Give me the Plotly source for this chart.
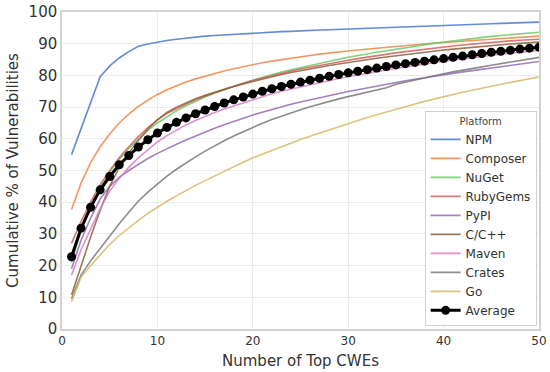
import plotly.graph_objects as go

x_cwes = list(range(1, 51))

npm = [55, 63.2, 71.4, 79.6, 83, 85.5, 87.5, 89.2, 89.9, 90.5,
       91, 91.4, 91.8, 92.1, 92.4, 92.6, 92.8, 93, 93.2, 93.4,
       93.5, 93.7, 93.8, 93.9, 94.1, 94.2, 94.3, 94.4, 94.5, 94.6,
       94.7, 94.8, 94.9, 95, 95.2, 95.3, 95.4, 95.5, 95.6, 95.7,
       95.8, 95.9, 96, 96.1, 96.3, 96.4, 96.5, 96.6, 96.7, 96.8]
composer = [37.7, 46, 52.5, 57.5, 61.5, 65, 67.8, 70.2, 72.2, 74,
            75.5, 76.8, 77.9, 78.9, 79.8, 80.6, 81.4, 82.1, 82.8, 83.4,
            84, 84.5, 85, 85.5, 85.9, 86.3, 86.7, 87.1, 87.4, 87.7,
            88, 88.3, 88.6, 88.9, 89.2, 89.4, 89.7, 89.9, 90.2, 90.4,
            90.6, 90.8, 91, 91.2, 91.4, 91.6, 91.8, 92, 92.2, 92.4]
nuget = [21, 31, 38.5, 44.5, 49.5, 53.5, 57, 60, 62.7, 65,
         67, 68.8, 70.4, 71.9, 73.2, 74.4, 75.5, 76.6, 77.6, 78.5,
         79.4, 80.3, 81.1, 81.8, 82.5, 83.2, 83.9, 84.5, 85.1, 85.7,
         86.3, 86.8, 87.3, 87.8, 88.3, 88.8, 89.2, 89.7, 90.1, 90.5,
         90.9, 91.3, 91.7, 92, 92.3, 92.6, 92.9, 93.1, 93.4, 93.6]
rubygems = [27, 34, 40, 45.5, 50, 54, 57.5, 60.7, 63.5, 66,
            68, 69.6, 71, 72.3, 73.5, 74.6, 75.6, 76.6, 77.5, 78.4,
            79.2, 80, 80.7, 81.4, 82, 82.6, 83.2, 83.8, 84.3, 84.8,
            85.3, 85.8, 86.3, 86.7, 87.1, 87.5, 87.9, 88.3, 88.6, 89,
            89.3, 89.6, 89.9, 90.2, 90.5, 90.7, 90.9, 91.1, 91.3, 91.4]
pypi = [19, 28, 35, 41, 45, 47.8, 50, 52, 53.8, 55.4,
        56.9, 58.3, 59.6, 60.9, 62.1, 63.3, 64.4, 65.5, 66.5, 67.5,
        68.4, 69.3, 70.1, 70.9, 71.6, 72.3, 73, 73.7, 74.3, 74.9,
        75.5, 76.1, 76.7, 77.3, 77.8, 78.3, 78.8, 79.3, 79.8, 80.2,
        80.7, 81.1, 81.5, 81.9, 82.3, 82.7, 83.1, 83.5, 83.9, 84.4]
ccpp = [10.7, 20, 29, 37.5, 45, 51, 55.5, 59.5, 63, 66,
        68.3, 70, 71.4, 72.6, 73.7, 74.7, 75.6, 76.5, 77.3, 78.1,
        78.9, 79.6, 80.3, 80.9, 81.5, 82.1, 82.6, 83.1, 83.6, 84.1,
        84.6, 85, 85.4, 85.8, 86.2, 86.6, 87, 87.3, 87.6, 88,
        88.3, 88.6, 88.9, 89.2, 89.4, 89.7, 89.9, 90.1, 90.3, 90.5]
maven = [17, 25, 31.5, 38, 43.5, 47.5, 51, 54, 56.5, 59,
         61, 62.8, 64.4, 65.8, 67.1, 68.3, 69.4, 70.4, 71.4, 72.4,
         73.3, 74.2, 75, 75.7, 76.4, 77.1, 77.8, 78.4, 79, 79.6,
         80.2, 80.7, 81.2, 81.7, 82.2, 82.7, 83.2, 83.6, 84, 84.5,
         84.9, 85.3, 85.7, 86, 86.4, 86.7, 87, 87.3, 87.6, 87.9]
crates = [9.5, 17, 21.5, 25.5, 29.5, 33.2, 36.8, 40.3, 43.2, 45.8,
          48.2, 50.4, 52.4, 54.3, 56.1, 57.8, 59.4, 60.9, 62.3, 63.6,
          64.9, 66.1, 67.2, 68.2, 69.2, 70.1, 71, 71.8, 72.6, 73.3,
          74, 74.7, 75.4, 76.1, 77.2, 77.9, 78.6, 79.3, 79.9, 80.5,
          81.1, 81.7, 82.2, 82.7, 83.2, 83.7, 84.2, 84.7, 85.2, 85.7]
go_lang = [8.6, 16.3, 20, 23.5, 26.7, 29.5, 32, 34.3, 36.5, 38.5,
           40.3, 42, 43.7, 45.3, 46.8, 48.3, 49.8, 51.2, 52.6, 54,
           55.2, 56.4, 57.6, 58.7, 59.8, 60.8, 61.8, 62.9, 63.9, 64.9,
           65.8, 66.7, 67.6, 68.5, 69.4, 70.2, 71, 71.8, 72.6, 73.3,
           74, 74.7, 75.4, 76, 76.6, 77.2, 77.8, 78.4, 78.9, 79.5]
average = [22.8, 31.8, 38.4, 43.9, 48.1, 51.8, 54.7, 57.4, 59.7, 61.8,
           63.6, 65.2, 66.6, 67.9, 69.1, 70.2, 71.3, 72.3, 73.2, 74.1,
           75, 75.8, 76.5, 77.2, 77.9, 78.5, 79.1, 79.7, 80.3, 80.8,
           81.3, 81.8, 82.3, 82.8, 83.3, 83.7, 84.1, 84.5, 84.9, 85.3,
           85.7, 86.1, 86.5, 86.9, 87.3, 87.6, 87.9, 88.3, 88.6, 88.9]

platforms = ["NPM", "Composer", "NuGet", "RubyGems", "PyPI", "C/C++", "Maven", "Crates", "Go"]
series = [npm, composer, nuget, rubygems, pypi, ccpp, maven, crates, go_lang]
colors = ["#4878D0", "#EE854A", "#6ACC64", "#D65F5F", "#956CB4",
          "#8C613C", "#DC7EC0", "#797979", "#D5BB67"]

fig = go.Figure()
for name, ys, c in zip(platforms, series, colors):
    fig.add_trace(go.Scatter(x=x_cwes, y=ys, mode="lines", name=name,
                             line=dict(color=c, width=1.6), opacity=0.85))
fig.add_trace(go.Scatter(x=x_cwes, y=average, mode="lines+markers", name="Average",
                         line=dict(color="black", width=3),
                         marker=dict(color="black", size=9)))

font = "DejaVu Sans"
fig.update_layout(
    width=550, height=372,
    margin=dict(l=62, r=11, t=12, b=43),
    paper_bgcolor="white", plot_bgcolor="white",
    font=dict(family=font, color="#333333"),
    showlegend=True,
    legend=dict(
        title=dict(text="Platform", font=dict(size=10, color="#444444"), side="top center"),
        x=0.995, xanchor="right", y=0.01, yanchor="bottom",
        bgcolor="rgba(255,255,255,0.9)", bordercolor="#d0d0d0", borderwidth=1,
        font=dict(size=12, color="#333333"),
        tracegroupgap=0, itemwidth=30,
    ),
    xaxis=dict(
        range=[0, 50], tickvals=[0, 10, 20, 30, 40, 50],
        tickfont=dict(size=12), showgrid=True, gridcolor="#ececec",
        showline=True, linecolor="#d3d3d3", linewidth=1.5, mirror=True,
        zeroline=False, ticks="", automargin=False,
        title=dict(text="Number of Top CWEs", font=dict(size=15), standoff=8),
    ),
    yaxis=dict(
        range=[0, 100], tickvals=list(range(0, 101, 10)),
        tickfont=dict(size=15), showgrid=True, gridcolor="#ececec",
        showline=True, linecolor="#d3d3d3", linewidth=1.5, mirror=True,
        zeroline=False, ticks="", automargin=False,
        title=dict(text="Cumulative % of Vulnerabilities", font=dict(size=15), standoff=6),
    ),
)

fig.write_html("out.html",
               config={"displayModeBar": False},
               post_script="document.body.style.margin='0';document.body.style.overflow='hidden';")
